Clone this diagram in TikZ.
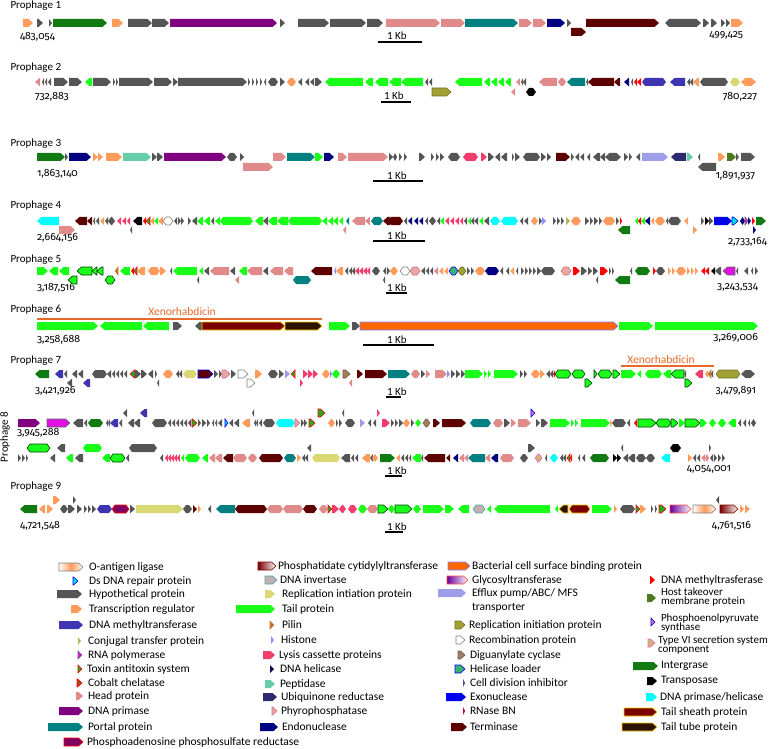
\documentclass[tikz,border=0pt]{standalone}
\usepackage{fontspec}
\setmainfont{Carlito}
\newfontfamily\numfont{Fira Sans}[Numbers=OldStyle]
\definecolor{Xhyp}{HTML}{555555}
\definecolor{Xtrg}{HTML}{FF9B5B}
\definecolor{Xhead}{HTML}{E08A8A}
\definecolor{Xportal}{HTML}{008080}
\definecolor{Xterm}{HTML}{5C0000}
\definecolor{Xprim}{HTML}{800080}
\definecolor{Xintg}{HTML}{127A12}
\definecolor{Xtail}{HTML}{19FF19}
\definecolor{Xendo}{HTML}{000080}
\definecolor{Xmeth}{HTML}{3F35B0}
\definecolor{Xlys}{HTML}{F23C6E}
\definecolor{Xpept}{HTML}{66CDAA}
\definecolor{Xubq}{HTML}{2E2A6E}
\definecolor{Xefx}{HTML}{9E9EE8}
\definecolor{Xexo}{HTML}{0000F0}
\definecolor{Xcyn}{HTML}{00FFFF}
\definecolor{Xrep}{HTML}{D9D872}
\definecolor{Xrepo}{HTML}{A0A034}
\definecolor{Xhost}{HTML}{4E7A1E}
\definecolor{Xbcs}{HTML}{FF6600}
\definecolor{Xshth}{HTML}{7A0000}
\definecolor{Xtube}{HTML}{2E1200}
\definecolor{Xinv}{HTML}{C0B0B0}
\definecolor{Xrnap}{HTML}{E010E0}
\definecolor{Xpilin}{HTML}{D2691E}
\definecolor{Xhist}{HTML}{9090FF}
\definecolor{Xdnah}{HTML}{1A0050}
\definecolor{Xphyro}{HTML}{E8A8A8}
\definecolor{Xppsr}{HTML}{800060}
\definecolor{Xconj}{HTML}{B5B560}
\definecolor{Xtox}{HTML}{22AA22}
\definecolor{Xcob}{HTML}{A04A20}
\definecolor{Xdsr}{HTML}{00E0E0}
\definecolor{Xdigu}{HTML}{A08060}
\definecolor{Xhell}{HTML}{3CB371}
\definecolor{Xcdi}{HTML}{6040A0}
\definecolor{Xrnase}{HTML}{C00030}
\definecolor{Xdmt}{HTML}{FF0000}
\definecolor{Xpep}{HTML}{D070B0}
\definecolor{Xtsix}{HTML}{C8B878}
\definecolor{Xxeno}{HTML}{E8692A}
\definecolor{Xyel}{HTML}{FFCC00}

\newcommand\Gf[4]{%
 \pgfmathsetmacro\hl{min(4.5,(#3)-(#2))}%
 \begingroup\edef\x{\endgroup\noexpand\path[gene,g#1]}\x
 (#2,#4-4) -- ({#3-\hl},#4-4) -- (#3,#4) -- ({#3-\hl},#4+4) -- (#2,#4+4) -- cycle;}
\newcommand\Gr[4]{%
 \pgfmathsetmacro\hl{min(4.5,(#3)-(#2))}%
 \begingroup\edef\x{\endgroup\noexpand\path[gene,g#1]}\x
 (#3,#4-4) -- ({#2+\hl},#4-4) -- (#2,#4) -- ({#2+\hl},#4+4) -- (#3,#4+4) -- cycle;}
\newcommand\Gh[4]{%
 \pgfmathsetmacro\hh{min(3,((#3)-(#2))/2)}%
 \begingroup\edef\x{\endgroup\noexpand\path[gene,g#1]}\x
 (#2,#4) -- ({#2+\hh},#4-4) -- ({#3-\hh},#4-4) -- (#3,#4) -- ({#3-\hh},#4+4) -- ({#2+\hh},#4+4) -- cycle;}
\newcommand\G[5]{\csname G#4\endcsname{#1}{#2}{#3}{#5}}
\newcommand\Row[2]{\foreach \st/\xa/\xb/\dr in {#2}{\G{\st}{\xa}{\xb}{\dr}{#1}}}

\begin{document}
\begin{tikzpicture}[x=1pt,y=-1pt,
  every node/.style={inner sep=0pt,outer sep=0pt},
  gene/.style={draw=none,line width=0.6pt},
  ghyp/.style={fill=Xhyp}, gtrg/.style={fill=Xtrg}, ghead/.style={fill=Xhead},
  gportal/.style={fill=Xportal}, gterm/.style={fill=Xterm}, gprim/.style={fill=Xprim},
  gintg/.style={fill=Xintg}, gtail/.style={fill=Xtail}, gendo/.style={fill=Xendo},
  gmeth/.style={fill=Xmeth}, glys/.style={fill=Xlys}, gpept/.style={fill=Xpept},
  gubq/.style={fill=Xubq}, gefx/.style={fill=Xefx}, gexo/.style={fill=Xexo},
  gcyn/.style={fill=Xcyn}, grep/.style={fill=Xrep}, grepo/.style={fill=Xrepo,draw=Xrepo!70!black},
  ghost/.style={fill=Xhost}, gbcs/.style={fill=Xbcs,draw=blue!50},
  gshth/.style={fill=Xshth,draw=Xyel}, gtube/.style={fill=Xtube,draw=Xyel},
  ginv/.style={fill=Xinv,draw=teal!70}, gblk/.style={fill=black},
  grnap/.style={fill=Xrnap,draw=black!60}, gpilin/.style={fill=Xpilin,draw=brown},
  ghist/.style={fill=Xhist}, gdnah/.style={fill=Xdnah}, gphyro/.style={fill=Xphyro,draw=Xhead!80!purple},
  gppsr/.style={fill=Xppsr,draw=red}, gconj/.style={fill=Xconj}, gtox/.style={fill=Xtox,draw=red},
  gcob/.style={fill=Xcob,draw=red}, gdsr/.style={fill=Xdsr,draw=blue}, greco/.style={fill=white,draw=gray},
  gdigu/.style={fill=Xdigu,draw=Xdigu!70!black}, ghell/.style={fill=Xhell,draw=blue}, gcdi/.style={fill=Xcdi},
  grnase/.style={fill=Xrnase}, gdmt/.style={fill=Xdmt}, gpep/.style={fill=Xpep,draw=blue},
  gtsix/.style={fill=Xtsix,draw=magenta!60}, gtailo/.style={fill=Xtail,draw=green!25!black},
  gtermb/.style={fill=Xterm,draw=blue},
  goant/.style={left color=white,right color=white,middle color=Xtrg,draw=gray},
  gglyc/.style={left color=Xprim!80!blue,right color=white,draw=red!70},
  gphcy/.style={left color=Xshth,right color=white,draw=Xshth},
  ttl/.style={anchor=west,font=\fontsize{11}{13}\selectfont},
  crd/.style={font=\numfont\fontsize{10.5}{13}\selectfont},
  kb/.style={anchor=base west,font=\fontsize{11}{13}\selectfont},
  kbl/.style={line width=1.2pt},
  leg/.style={anchor=west,font=\fontsize{11.5}{13}\selectfont},
  leg2/.style={anchor=west,align=left,font=\fontsize{11}{9.6}\selectfont},
  xeno/.style={font=\fontsize{11.5}{13}\selectfont,text=Xxeno},
  xenl/.style={draw=Xxeno,line width=1.3pt}]
\useasboundingbox (0,0) rectangle (777,749);

% ---------------- Prophage 1
\node[ttl] (p1) at (10.5,6) {Prophage 1};
\node[crd,anchor=west] (l1) at (20,37) {483,054};
\node[crd,anchor=east] (r1) at (743,35) {499,425};
\node[kb] (k1) at (387,40) {1 Kb}; \draw[kbl] (378,42) -- (422,42);
\Row{23}{trg/23/33/f, hyp/37/43/f, hyp/49/52/f, intg/53/107/f, trg/112/123/f, hyp/128/152/f, hyp/152/169/f, prim/170/277/f, hyp/280/285/f, hyp/298/329/f, hyp/330/366/f, hyp/367/383/f, head/386/440/f, head/441/465/f, portal/465/518/f, head/519/532/f, head/533/546/f, endo/547/565/f, hyp/567/571/f, term/586/659/f, hyp/665/669/r, hyp/669/701/f, hyp/703/709/f, hyp/711/717/f, hyp/721/725/f, hyp/726/730/f, trg/731/743/f}
\G{term}{571}{586}{f}{32}

% ---------------- Prophage 2
\node[ttl] (p2) at (10.5,68) {Prophage 2};
\node[crd,anchor=west] (l2) at (35,97) {732,883};
\node[crd,anchor=east] (r2) at (757,97) {780,227};
\node[kb] (k2) at (384,100) {1 Kb}; \draw[kbl] (381,102) -- (411,102);
\Row{82}{head/35/40/r, hyp/42/44/r, hyp/45/47/r, hyp/48/51/r, hyp/54/68/f, hyp/69/82/f, tail/85/92/r, hyp/93/111/f, hyp/113/115/f, hyp/116/118/f, hyp/119/153/f, hyp/154/172/f, hyp/173/178/f, hyp/178/247/f, hyp/248/250/f, hyp/252/254/f, hyp/256/258/f, hyp/260/262/f, hyp/264/266/r, hyp/268/278/h, hyp/280/285/f, trg/287/296/h, hyp/298/302/r, hyp/305/309/r, hyp/310/314/r, hyp/315/322/f, tail/325/363/r, tail/365/373/r, tail/375/388/r, tail/389/401/r, tail/401/423/r, hyp/425/428/r, hyp/429/432/r, tail/455/482/r, tail/484/490/r, tail/491/497/r, tail/498/504/r, tail/505/511/r, head/516/520/r, hyp/521/523/r, hyp/523/526/r, head/539/557/r, head/558/566/h, portal/567/585/r, hyp/586/588/r, term/588/614/r, term/614/620/r, endo/624/629/r, hyp/631/633/r, dmt/634/637/r, dmt/637/641/r, meth/642/666/h, meth/670/685/r, hyp/687/690/r, hyp/690/693/r, trg/693/699/r, hyp/700/728/h, rep/730/740/h, trg/741/746/r, trg/746/756/f}
\Row{92}{repo/432/451/f, head/511/515/r, blk/526/536/h}

% ---------------- Prophage 3
\node[ttl] (p3) at (10.5,144) {Prophage 3};
\node[crd,anchor=west] (l3) at (37,174) {1,863,140};
\node[crd,anchor=east] (r3) at (755,176) {1,891,937};
\node[kb] (k3) at (387,179) {1 Kb}; \draw[kbl] (373,181) -- (423,181);
\Row{157}{intg/37/65/f, hyp/65/68/f, endo/69/91/f, trg/93/98/f, trg/98/103/f, trg/106/122/f, pept/123/151/f, hyp/152/157/f, hyp/157/163/f, prim/164/226/f, hyp/227/237/h, hyp/240/244/f, head/273/286/f, portal/287/315/f, tail/315/323/f, endo/324/334/f, head/338/347/f, head/348/388/f, hyp/389/393/f, hyp/393/397/h, hyp/399/402/f, hyp/404/407/f, hyp/419/425/f, hyp/431/434/f, hyp/436/439/f, hyp/440/444/f, hyp/448/460/h, lys/463/478/h, lys/481/487/f, hyp/488/494/f, hyp/495/500/r, hyp/501/507/r, hyp/512/514/f, hyp/515/520/f, hyp/523/540/h, hyp/541/546/f, hyp/547/551/f, term/556/570/f, hyp/571/574/f, hyp/575/579/r, hyp/580/584/r, hyp/587/590/r, hyp/593/600/r, hyp/600/605/r, hyp/605/611/r, hyp/611/621/f, hyp/624/628/f, hyp/629/632/f, hyp/636/640/r, efx/642/668/f, ubq/671/686/r, pept/687/693/f, hyp/698/700/r, trg/718/725/f, host/727/736/f, hyp/736/739/f, hyp/741/755/f}
\Row{167}{head/243/273/f, hyp/698/716/r}

% ---------------- Prophage 4
\node[ttl] (p4) at (10.5,206) {Prophage 4};
\node[crd,anchor=west] (l4) at (37,238) {2,664,156};
\node[crd,anchor=east] (r4) at (767,242) {2,733,164};
\node[kb] (k4) at (387,239) {1 Kb}; \draw[kbl] (373,241) -- (425,241);
\Row{221}{cyn/37/59/r, term/75/87/r, term/87/92/r, hyp/93/95/r, hyp/96/99/r, trg/100/104/r, hyp/105/108/r, hyp/108/115/h, lys/117/121/r, lys/122/126/r, lys/127/130/r, blk/133/142/r, dmt/143/146/r, tox/146/150/r, trg/150/154/r, tail/154/158/r, trg/158/163/r, reco/163/173/h, hyp/174/177/r, hyp/178/181/f, hyp/181/184/f, hyp/188/191/f, hyp/192/197/r, tail/197/203/r, tail/204/210/r, hyp/211/214/r, tail/215/220/r, tail/220/253/h, tail/255/263/r, hyp/263/268/r, tail/268/277/r, tail/277/288/r, tail/288/322/h, tail/322/327/r, tail/328/333/r, tail/333/338/r, tail/339/343/r, portal/346/349/r, head/352/365/r, head/365/370/r, portal/371/383/h, term/383/390/r, term/388/403/h, hyp/404/407/r, endo/408/412/r, endo/414/418/r, endo/419/423/r, hyp/425/428/r, hyp/429/436/h, hyp/437/440/r, tail/440/444/r, lys/445/449/r, lys/450/454/r, lys/455/459/r, lys/460/463/r, hyp/464/467/r, tail/468/471/r, hyp/471/474/r, hyp/474/478/r, tail/479/483/r, hyp/484/489/r, cyn/490/500/h, cyn/501/518/h, hyp/520/523/r, hyp/524/528/r, trg/531/538/h, hyp/539/542/f, hist/542/546/f, hyp/553/556/f, hyp/557/560/f, hyp/561/564/f, conj/566/570/f, trg/571/581/h, hyp/585/589/f, hyp/590/593/f, hyp/594/598/f, hyp/599/602/f, trg/603/615/h, hyp/616/619/f, dmt/620/622/f, tail/635/638/r, dmt/638/641/r, tail/641/645/r, endo/645/650/r, trg/651/654/r, trg/655/665/h, hyp/666/668/r, hyp/668/681/h, trg/684/688/r, hyp/701/704/f, blk/705/709/f, hyp/709/713/f, exo/714/732/f, dsr/732/738/f, endo/740/745/h, rnap/745/748/f, endo/748/751/f, dmt/752/755/f, intg/756/766/f}
\Row{230}{head/59/75/f, hyp/130/132/r, head/343/346/r, intg/618/630/r, trg/693/697/f, endo/753/756/f}

% ---------------- Prophage 5
\node[ttl] (p5) at (10.5,260) {Prophage 5};
\node[crd,anchor=west] (l5) at (37,288) {3,187,516};
\node[crd,anchor=east] (r5) at (758,287) {3,243,534};
\node[kb] (k5) at (387,291) {1 Kb}; \draw[kbl] (386,293) -- (407,293);
\Row{271}{tail/37/48/f, tail/49/58/r, tail/59/69/r, tailo/77/92/r, tailo/92/97/r, tailo/97/103/r, pilin/115/118/r, tail/120/130/r, dmt/131/134/r, tox/134/137/r, trg/137/145/r, trg/148/160/h, trg/160/166/f, hyp/170/172/r, tail/173/197/r, tail/199/203/r, hyp/204/209/r, head/210/229/r, hyp/230/235/r, tail/239/247/r, head/247/262/r, hyp/263/268/r, head/270/283/r, head/284/293/r, term/311/332/r, hist/334/336/r, trg/336/343/r, hyp/345/348/r, hyp/349/352/r, hyp/352/355/r, lys/355/359/r, lys/359/363/r, lys/363/367/r, lys/367/370/r, hyp/372/380/h, hyp/383/386/r, hyp/387/390/f, trg/390/398/h, reco/400/410/h, phyro/410/420/h, hyp/421/425/r, hyp/426/429/r, hyp/430/433/r, head/434/438/r, trg/439/443/r, trg/444/448/r, hell/449/458/h, repo/458/466/h, hyp/467/470/f, hyp/471/474/f, trg/475/485/h, endo/485/499/h, hyp/500/503/r, hyp/506/509/r, trg/510/514/r, hyp/516/518/r, hyp/521/524/f, hyp/525/528/f, hyp/529/532/f, hyp/533/536/f, hyp/537/541/f, hyp/541/555/h, phyro/561/571/h, dmt/573/580/f, hyp/581/587/f, hyp/588/592/f, hyp/593/598/f, dmt/600/608/f, hyp/609/611/f, hyp/612/614/f, hyp/630/632/r, intg/635/650/h, dmt/653/656/f, hyp/656/665/h, trg/668/671/f, trg/672/675/f, trg/676/686/h, trg/687/690/f, trg/691/694/f, trg/695/698/f, dmt/701/705/r, dmt/705/709/r, blk/711/715/r, hyp/715/721/r, rnap/723/735/r, hyp/736/738/r, hyp/744/748/r, hyp/751/753/r, hyp/755/758/f}
\Row{280}{tailo/68/77/r, tailo/105/115/h, hyp/197/199/r, head/235/239/r, portal/293/311/h, hyp/383/385/r, hyp/596/598/r, intg/615/630/r}

% ---------------- Prophage 6
\node[ttl] (p6) at (10.5,310) {Prophage 6};
\node[xeno] (x6) at (182,312) {Xenorhabdicin};
\draw[xenl] (37,319) -- (322,319);
\node[crd,anchor=west] (l6) at (37,340) {3,258,688};
\node[crd,anchor=east] (r6) at (758,338) {3,269,006};
\node[kb] (k6) at (387,343) {1 Kb}; \draw[kbl] (363,345) -- (434,345);
\Row{326}{tail/37/98/f, tail/100/142/r, tail/143/169/r, hyp/173/182/f, hyp/195/202/r, shth/202/285/f, tube/285/322/f, tail/329/350/f, hyp/352/360/f, bcs/360/618/f, tail/619/653/f, tail/655/758/f}

% ---------------- Prophage 7
\node[ttl] (p7) at (10.5,361) {Prophage 7};
\node[xeno] (x7) at (661,360) {Xenorhabdicin};
\draw[xenl] (621,366) -- (714,366);
\node[crd,anchor=west] (l7) at (35,391) {3,421,926};
\node[crd,anchor=east] (r7) at (756,391) {3,479,891};
\node[kb] (k7) at (387,395) {1 Kb}; \draw[kbl] (386,397) -- (401,397);
\Row{374}{intg/35/49/r, meth/55/63/r, hyp/64/67/r, hyp/72/77/r, hyp/78/83/r, hyp/92/107/h, hyp/107/111/r, hyp/112/115/r, hyp/116/119/r, hyp/120/123/r, hyp/124/127/r, tox/130/135/r, hyp/135/141/f, hyp/141/147/f, hyp/148/153/r, hyp/155/157/f, trg/163/173/h, hyp/176/179/r, hyp/179/182/r, rep/183/197/h, termb/198/213/f, hyp/214/218/f, hyp/219/222/f, phyro/222/230/f, hyp/231/236/f, reco/238/248/f, trg/255/262/f, hyp/268/278/h, hyp/279/284/f, efx/285/290/f, tox/291/295/r, lys/303/308/f, lys/308/313/f, lys/313/318/f, trg/322/330/h, hist/330/332/f, tail/332/340/h, digu/343/350/f, term/357/363/f, term/365/387/f, portal/388/410/f, head/411/420/h, hyp/421/425/f, head/426/430/f, head/435/447/f, hist/447/450/f, hyp/451/455/f, hyp/456/460/f, hyp/461/465/f, tail/465/483/f, tail/484/487/f, tail/488/491/f, tail/494/518/f, hyp/520/523/f, hyp/524/527/f, trg/531/540/h, trg/540/545/f, hyp/546/550/r, hyp/550/553/r, dmt/553/555/r, tailo/555/571/h, tailo/572/585/h, tailo/594/597/f, tailo/598/612/h, tailo/613/620/f, tail/621/636/f, tail/637/641/r, tail/645/662/h, tail/663/671/r, tailo/671/684/r, hyp/684/686/r, lys/695/703/r, trg/705/708/r, pilin/708/711/r, hyp/711/713/r, repo/716/740/h, hyp/741/748/r, hyp/748/755/f}
\Row{383}{hyp/67/72/r, meth/83/90/r, hyp/157/159/r, reco/247/255/f, lys/300/303/f, head/349/352/r, tailo/585/592/f, tailo/685/692/f}

% ---------------- Prophage 8
\node[ttl,anchor=center,rotate=90] (p8) at (5,437) {Prophage 8};
\node[crd,anchor=west] (l8) at (17,433) {3,945,288};
\node[crd,anchor=east] (r8) at (731,469) {4,054,001};
\node[kb] (k8) at (387,474) {1 Kb}; \draw[kbl] (385,476) -- (402,476);
\Row{423}{prim/18/40/f, rnap/47/70/f, hyp/73/83/r, hyp/84/87/r, intg/88/103/h, hyp/106/108/r, hyp/108/110/r, meth/110/118/r, hyp/119/122/r, hyp/128/134/r, hyp/134/140/r, hyp/152/167/h, hyp/168/171/r, hyp/172/175/r, hyp/176/179/r, hyp/180/183/r, hyp/184/187/r, hyp/188/191/r, tox/192/197/f, hyp/198/201/f, hyp/202/206/f, hyp/207/210/f, hyp/212/214/r, hyp/215/217/r, hyp/218/222/r, dsr/225/228/f, hyp/229/233/r, hyp/234/239/r, trg/242/250/r, hyp/254/256/r, hyp/256/258/r, hyp/259/262/r, hyp/263/275/h, cyn/276/295/h, phyro/295/300/f, hyp/301/304/f, hyp/304/307/f, tox/309/315/f, trg/328/335/h, hyp/336/338/f, hyp/339/342/f, hyp/345/355/h, efx/360/365/f, hyp/368/371/r, hyp/373/376/r, lys/382/390/f, hyp/391/394/f, hyp/395/398/f, hyp/399/403/f, trg/403/410/h, hyp/411/414/f, tail/415/421/h, digu/423/430/h, term/433/440/f, term/442/466/f, portal/470/491/h, head/493/503/h, hyp/504/510/f, head/511/516/f, head/518/531/f, hyp/536/540/f, hyp/541/548/f, tail/550/570/f, tail/571/574/f, tail/575/578/f, tail/581/610/f, trg/610/612/f, hyp/612/626/h, hyp/627/630/r, dmt/634/637/r, tailo/638/656/f, tailo/656/671/h, tailo/671/678/f, tail/679/685/f, tailo/685/700/f, tail/700/707/f, tail/709/716/h, tail/718/726/h, tail/728/736/r, hyp/738/741/r, hyp/743/746/r, hyp/748/750/r, hyp/751/756/h}
\Row{413}{hyp/123/127/r, meth/140/147/r, hyp/252/254/r, tox/318/325/f, hyp/342/344/r, lys/377/380/f, pep/531/535/f}
\Row{448}{tailo/27/50/h, hyp/57/65/r, tail/83/102/h, hyp/129/157/h, hyp/307/311/r, hyp/528/535/f, hyp/621/623/r, blk/670/681/h, hyp/709/711/f}
\Row{458}{hyp/18/21/f, hyp/22/25/f, hyp/26/28/f, hyp/50/55/r, tail/66/73/r, hyp/75/83/r, tail/102/110/r, tailo/110/125/h, hyp/126/129/r, hyp/160/163/r, lys/165/168/r, lys/168/171/r, lys/171/174/r, lys/174/177/r, lys/177/180/r, tail/181/184/r, tail/185/200/h, tail/202/208/r, head/209/215/r, head/215/222/r, term/223/233/r, head/233/247/h, head/248/257/h, term/259/283/h, portal/284/296/h, trg/297/301/f, hyp/302/305/r, hyp/305/308/r, rep/312/340/h, hyp/341/350/r, hyp/351/354/r, hyp/355/358/r, trg/362/370/r, hyp/370/373/r, trg/372/378/h, intg/380/395/f, trg/396/400/r, hyp/401/404/r, hyp/405/408/r, hyp/409/411/r, tail/412/421/r, hyp/421/423/r, term/424/445/r, term/446/450/r, endo/453/458/r, head/459/464/r, head/464/468/r, portal/468/485/r, head/485/490/r, endo/491/498/r, head/500/514/h, hyp/520/528/h, tsix/535/542/h, hyp/545/547/r, cyn/550/558/h, hyp/560/563/r, hyp/563/566/r, tox/567/570/r, dmt/570/572/r, hyp/578/580/r, hyp/582/585/r, intg/590/609/h, blk/613/617/f, blk/617/621/f, hyp/623/628/r, hyp/628/635/r, hyp/636/646/h, hyp/646/655/h, cyn/661/670/r, trg/688/692/f, hyp/693/696/r, hyp/697/700/r, head/701/705/r, head/705/709/h, hyp/710/713/r, hyp/714/717/f, hyp/718/721/f, hyp/722/725/f}

% ---------------- Prophage 9
\node[ttl] (p9) at (10.5,487) {Prophage 9};
\node[crd,anchor=west] (l9) at (20,526) {4,721,548};
\node[crd,anchor=east] (r9) at (751,526) {4,761,516};
\node[kb] (k9) at (387,530) {1 Kb}; \draw[kbl] (385,532) -- (403,532);
\Row{509}{intg/20/37/r, trg/39/45/r, trg/47/53/f, hyp/60/68/h, hyp/68/75/f, hyp/77/82/f, hyp/84/87/f, hyp/88/91/f, hyp/92/96/f, meth/97/112/h, ppsr/112/129/h, hyp/130/135/f, rep/136/183/f, hyp/183/192/h, term/193/197/f, trg/198/201/f, hyp/208/211/r, portal/216/235/r, term/235/267/h, head/267/283/h, head/283/303/h, term/303/317/h, head/319/328/h, tox/328/332/f, lys/332/339/f, lys/339/346/h, lys/348/357/h, tail/358/367/h, head/367/378/h, tailo/378/388/f, tail/388/395/h, tailo/395/412/f, tail/413/421/h, tail/423/444/f, tail/445/454/f, tail/458/469/r, inv/473/485/h, tail/487/491/r, tail/494/550/r, tail/555/558/r, tube/559/568/r, shth/569/590/h, tail/592/612/f, trg/614/617/f, hyp/620/635/h, tox/636/640/f, trg/640/646/f, hyp/651/653/f, hyp/655/657/f, tox/659/666/f, glyc/670/691/f, oant/693/716/f, phcy/720/738/f, trg/740/744/f, trg/745/750/f}
\Row{500}{trg/53/60/f, hyp/73/76/f, hyp/716/719/r}

% ---------------- Legend column 1
\foreach \st/\xa/\xb/\yy/\tx/\tt in {oant/59/83/567/89/O-antigen ligase, dsr/73/78/581/89/Ds DNA repair protein, hyp/57/82/594/89/Hypothetical protein, trg/71/82/609/89/Transcription regulator, meth/59/83/625/89/DNA methyltransferase, conj/78/81/641/88/Conjugal transfer protein, rnap/78/82/655/88/RNA polymerase, tox/78/82/669/87/Toxin antitoxin system, cob/77/82/683/88/Cobalt chelatase, head/76/83/696/88/Head protein, prim/59/83/711/88/DNA primase, portal/48/83/727/88/Portal protein, ppsr/64/83/742/87/Phosphoadenosine phosphosulfate reductase}
 {\G{\st}{\xa}{\xb}{f}{\yy}\node[leg] at (\tx,\yy) {\tt};}
% column 2
\foreach \st/\xa/\xb/\yy/\tx/\tt in {phcy/258/276/566/278/Phosphatidate cytidylyltransferase, inv/265/277/580/280/DNA invertase, rep/265/275/594/282/Replication intiation protein, tail/236/275/609/282/Tail protein, pilin/270/274/625/282/Pilin, hist/271/274/640/281/Histone, lys/263/275/655/279/Lysis cassette proteins, dnah/270/274/669/280/DNA helicase, pept/265/275/684/280/Peptidase, ubq/263/277/697/281/Ubiquinone reductase, phyro/272/277/711/281/Phyrophosphatase, endo/260/278/727/282/Endonuclease}
 {\G{\st}{\xa}{\xb}{f}{\yy}\node[leg] at (\tx,\yy) {\tt};}
% column 3
\foreach \st/\xa/\xb/\yy/\tx/\tt in {bcs/448/470/566/472/Bacterial cell surface binding protein, glyc/447/468/580/472/Glycosyltransferase, repo/455/465/625/469/Replication initiation protein, reco/456/465/640/469/Recombination protein, digu/458/465/655/470/Diguanylate cyclase, hell/455/465/669/470/Helicase loader, cdi/463/465/683/470/Cell division inhibitor, exo/446/466/697/470/Exonuclease, rnase/463/465/711/470/RNase BN, term/451/467/727/470/Terminase}
 {\G{\st}{\xa}{\xb}{f}{\yy}\node[leg] at (\tx,\yy) {\tt};}
\G{efx}{438}{466}{f}{593}
\node[leg] (efxa) at (472,593) {Efflux pump/ABC/ MFS};
\node[leg] (efxb) at (472,608) {transporter};
% column 4
\foreach \st/\xa/\xb/\yy/\tx/\tt in {dmt/650/655/580/661/DNA methyltrasferase, intg/633/658/666/661/Intergrase, blk/647/657/681/661/Transposase, shth/624/657/712/661/Tail sheath protein, tube/622/657/727/661/Tail tube protein}
 {\G{\st}{\xa}{\xb}{f}{\yy}\node[leg] at (\tx,\yy) {\tt};}
\G{cyn}{646}{657}{f}{697}
\node[leg] (cyl) at (660,697) {DNA primase/helicase};
\G{host}{647}{656}{f}{598}
\node[leg2] (hostl) at (661,597) {Host takeover\\membrane protein};
\G{pep}{651}{655}{f}{622}
\node[leg2] (pepl) at (661,623) {Phosphoenolpyruvate\\synthase};
\G{tsix}{648}{655}{f}{643}
\node[leg2] (t6l) at (658,645) {Type VI secretion system\\component};
\end{tikzpicture}
\end{document}
